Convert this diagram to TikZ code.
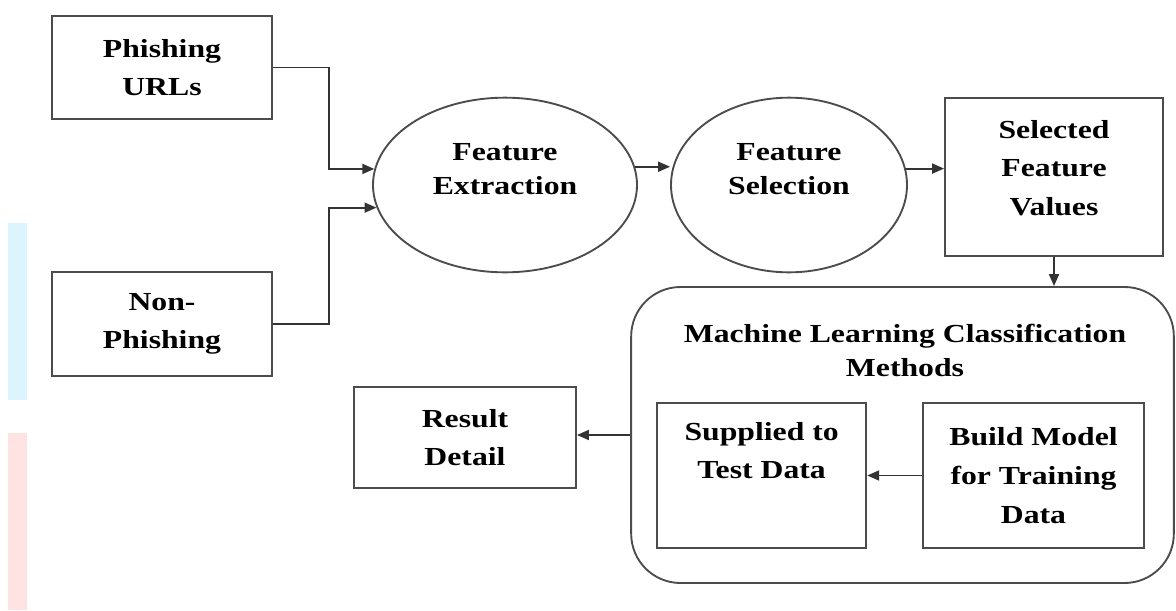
\documentclass[tikz,border=0pt]{standalone}
\usepackage{fontspec}
\setmainfont{Liberation Serif}[FakeStretch=1.22]
\usepackage{xcolor}
\usetikzlibrary{arrows.meta,positioning,shapes.geometric}

\begin{document}
\begin{tikzpicture}[
  x=0.75pt, y=-0.75pt,
  every node/.style={font=\bfseries\fontsize{19.5}{29}\selectfont, text=black, align=center, inner sep=2pt},
  box/.style={rectangle, draw=black!70, line width=1.4pt, fill=white},
  oval/.style={ellipse, draw=black!70, line width=1.4pt, fill=white, minimum height=131pt, font=\bfseries\fontsize{19.5}{25.5}\selectfont},
  arrow/.style={-{Triangle[length=9pt,width=7.5pt]}, draw=black!80, line width=1.4pt}
]
  % page
  \fill[white] (0,0) rectangle (1176,610);
  \fill[cyan!14] (8,223) rectangle (27,400);
  \fill[red!11] (8,433) rectangle (27,610);

  % Inputs
  \node[box, minimum width=165pt, minimum height=77pt] (phish) at (162,67.5) {Phishing\\URLs};
  \node[box, minimum width=165pt, minimum height=78pt] (nonphish) at (162,324) {Non-\\Phishing};

  % Features
  \node[oval, minimum width=198pt] (extract) at (505,185) {Feature\\Extraction\\[-9.5pt] \strut};
  \node[oval, minimum width=177pt] (select) at (789,185) {Feature\\Selection\\[-9.5pt] \strut};
  \node[box, minimum width=163.5pt, minimum height=118.5pt] (values) at (1054,177) {Selected\\Feature\\Values\\[-24pt] \strut};

  % Classification
  \node[box, rounded corners=37pt, minimum width=407pt, minimum height=222pt] (mlbox) at (902.5,435) {};
  \node[font=\bfseries\fontsize{19.5}{25.5}\selectfont] (mltitle) at (905,350) {Machine Learning Classification\\Methods};
  \node[box, minimum width=166pt, minimum height=109pt] (build) at (1033.5,475.5) {Build Model\\for Training\\Data};
  \node[box, minimum width=157pt, minimum height=109pt, left=41pt of build] (test) {Supplied to\\Test Data\\ \strut};
  \node[box, minimum width=166.5pt, minimum height=76pt] (result) at (465,437.5) {Result\\Detail};

  \draw[arrow] (phish.east) -- ++(56,0) |- (extract.173);
  \draw[arrow] (nonphish.east) -- ++(56,0) |- (extract.190);
  \draw[arrow] (extract.8) -- (extract.8 -| select.west);
  \draw[arrow] (select.8) -- (select.8 -| values.west);
  \draw[arrow] (values.south) -- (values.south |- mlbox.north);
  \draw[arrow] (build.west) -- (test.east);
  \draw[arrow] (mlbox.west) -- (mlbox.west -| result.east);
\end{tikzpicture}
\end{document}
